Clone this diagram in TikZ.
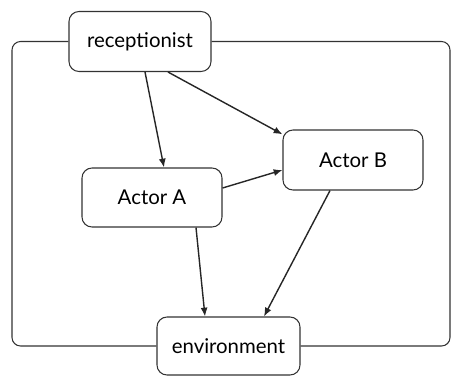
\documentclass[tikz,border=0pt]{standalone}
\usepackage{fontspec}
\setmainfont{Lato}
\usepackage{tikz}
\usetikzlibrary{
	arrows.meta,
	positioning,
	calc
}
\usepackage{xcolor}

\begin{document}
\begin{tikzpicture}[
		actor/.style={draw=black!80,line width=0.6pt,rounded corners=0.2cm,fill=white,
			minimum width=2.84cm,minimum height=1.2cm,font=\fontsize{11.6}{14}\selectfont},
		msg/.style={-{Latex[length=5pt,width=4pt]},line width=0.8pt,black!85},
		loopline/.style={draw=black!80,line width=0.6pt,rounded corners=0.17cm}
	]
		\useasboundingbox (0,0) rectangle (9.04,7.52);
		
		\coordinate (lft) at (0.24,0);
		\coordinate (rgt) at (9.0,0);
		
		\node[actor] (recep) at (2.8,6.69) {receptionist};
		\node[actor,minimum width=2.8cm,minimum height=1.18cm] (actA) at (3.04,3.57) {Actor A};
		\node[actor,minimum width=2.8cm] (actB) at (7.06,4.32) {Actor B};
		\node[actor,minimum width=2.86cm,minimum height=1.16cm] (env) at (4.57,0.6) {environment};
		
		\draw[loopline] (recep.west) -| (lft |- env.west) -- (env.west);
		\draw[loopline] (recep.east) -| (rgt |- env.east) -- (env.east);
		
		\draw[msg] ([xshift=0.1cm]recep.south) -- ([xshift=0.24cm]actA.north);
		\draw[msg] ([xshift=0.56cm]recep.south) -- (actB.160);
		\draw[msg] ([yshift=0.19cm]actA.east) -- ([yshift=-0.2cm]actB.west);
		\draw[msg] ([xshift=0.88cm]actA.south) -- ([xshift=-0.47cm]env.north);
		\draw[msg] ([xshift=-0.46cm]actB.south) -- ([xshift=0.71cm]env.north);
		
	\end{tikzpicture}
\end{document}
